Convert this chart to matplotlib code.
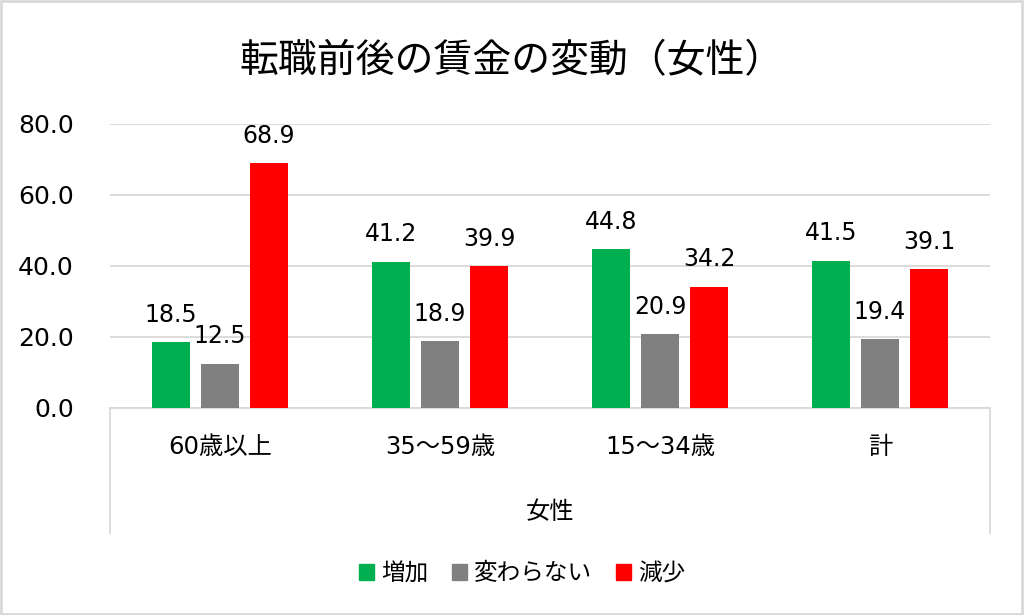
"""Grouped bar chart: wage change before/after job change (women)."""

import matplotlib

matplotlib.use("Agg")
import matplotlib.patches as mpatches
import matplotlib.pyplot as plt
import numpy as np

plt.rcParams["font.family"] = ["DejaVu Sans", "Noto Sans CJK JP"]

title = "転職前後の賃金の変動（女性）"
categories = ["60歳以上", "35～59歳", "15～34歳", "計"]
group_label = "女性"
series_names = ["増加", "変わらない", "減少"]
increase = [18.5, 41.2, 44.8, 41.5]
unchanged = [12.5, 18.9, 20.9, 19.4]
decrease = [68.9, 39.9, 34.2, 39.1]
colors = ["#00b050", "#808080", "#ff0000"]
yticks = [0, 20, 40, 60, 80]

fig = plt.figure(figsize=(10.24, 6.15), dpi=100)
ax = fig.add_axes([0.1074, 0.3366, 0.8594, 0.4618])

x = np.arange(len(categories))
width = 0.173
step = 0.223
for i, (vals, name, col) in enumerate(zip([increase, unchanged, decrease], series_names, colors)):
    bars = ax.bar(x + (i - 1) * step, vals, width, color=col, label=name, zorder=3)
    for b, v in zip(bars, vals):
        ax.annotate(f"{v:.1f}", (b.get_x() + b.get_width() / 2, v), xytext=(0, 11),
                    textcoords="offset points", ha="center", va="bottom", fontsize=17)

ax.set_xlim(-0.5, len(categories) - 0.5)
ax.set_ylim(0, 80)
ax.set_yticks(yticks)
ax.set_yticklabels([f"{v:.1f}" for v in yticks], fontsize=18)
ax.tick_params(axis="y", length=0, pad=26)
ax.set_xticks([])
ax.grid(axis="y", color="#d9d9d9", linewidth=1.3, zorder=0)
for s in ["top", "right", "left"]:
    ax.spines[s].set_visible(False)
ax.spines["bottom"].set_color("#d9d9d9")
ax.spines["bottom"].set_linewidth(1.3)

# two-level category axis box
trans = ax.get_xaxis_transform()
for xe in [-0.5, len(categories) - 0.5]:
    ax.plot([xe, xe], [0, -0.44], transform=trans, color="#d9d9d9", lw=1.3, clip_on=False)
for xi, c in zip(x, categories):
    ax.text(xi, -0.138, c, transform=trans, ha="center", va="center", fontsize=17.5)
ax.text((len(categories) - 1) / 2, -0.366, group_label, transform=trans,
        ha="center", va="center", fontsize=17.5)

fig.text(0.5, 0.9, title, ha="center", va="center", fontsize=28)

handles = [mpatches.Patch(color=c, label=n) for c, n in zip(colors, series_names)]
fig.legend(handles=handles, loc="center", bbox_to_anchor=(0.51, 0.068), ncol=3, frameon=False,
           fontsize=17, handlelength=0.65, handleheight=0.65, handletextpad=0.3, columnspacing=1.0)

fig.add_artist(mpatches.Rectangle((0.001, 0.002), 0.997, 0.996, transform=fig.transFigure,
                                  fill=False, edgecolor="#d9d9d9", linewidth=2))

fig.savefig("out.png", dpi=100)
